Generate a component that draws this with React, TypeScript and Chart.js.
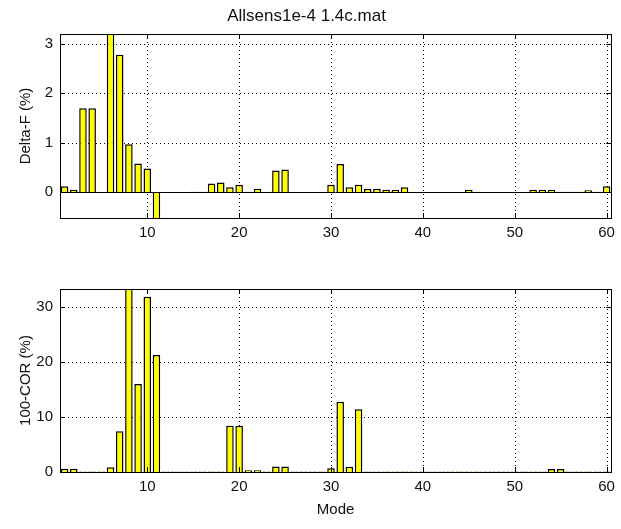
import React, { useEffect, useRef } from "react";
import { Chart, registerables } from "chart.js";

Chart.register(...registerables);

const modes: string[] = Array.from({ length: 60 }, (_, i) => String(i + 1));

const deltaF: number[] = [
  0.12, 0.05, 1.7, 1.7, 0, 3.3, 2.78, 0.97, 0.58, 0.48,
  -0.6, 0, 0, 0, 0.01, 0.01, 0.18, 0.2, 0.1, 0.15,
  0.01, 0.07, 0, 0.44, 0.46, 0, 0, 0, 0, 0.15,
  0.57, 0.1, 0.15, 0.07, 0.07, 0.05, 0.05, 0.1, 0, 0,
  0, 0, 0, 0, 0.05, 0.01, 0, 0, 0, 0,
  0, 0.05, 0.05, 0.05, 0.01, 0.01, 0.01, 0.04, 0.01, 0.12,
];

const cor: number[] = [
  0.6, 0.6, 0.1, 0.1, 0.1, 0.85, 7.4, 35, 16, 31.9,
  21.3, 0.1, 0.1, 0.1, 0.1, 0.1, 0.1, 0.1, 8.4, 8.4,
  0.3, 0.3, 0.1, 1, 1, 0.1, 0.1, 0.1, 0.1, 0.7,
  12.8, 0.95, 11.4, 0.1, 0.1, 0.1, 0.1, 0.1, 0.1, 0.1,
  0.1, 0.1, 0.1, 0.1, 0.1, 0.1, 0.1, 0.1, 0.1, 0.1,
  0.1, 0.1, 0.1, 0.55, 0.55, 0.1, 0.1, 0.1, 0.1, 0.1,
];

const xTickValues: number[] = [10, 20, 30, 40, 50, 60];
const topYTicks: number[] = [0, 1, 2, 3];
const bottomYTicks: number[] = [0, 10, 20, 30];

const FONT = "'Liberation Sans', Arial, sans-serif";
const TEXT = "#111";

const matlabPlugin = {
  id: "matlabFrame",
  beforeDraw(chart: any) {
    const { ctx, width, height } = chart;
    ctx.save();
    ctx.fillStyle = "#ffffff";
    ctx.fillRect(0, 0, width, height);
    ctx.restore();
  },
  beforeDatasetsDraw(chart: any) {
    const { ctx, chartArea: a, scales } = chart;
    const x = scales.x;
    const y = scales.y;
    ctx.save();
    ctx.strokeStyle = "#000";
    ctx.lineWidth = 1;
    ctx.setLineDash([1, 3]);
    xTickValues.forEach((v) => {
      const px = Math.round(x.getPixelForValue(v - 1)) + 0.5;
      ctx.beginPath();
      ctx.moveTo(px, a.top);
      ctx.lineTo(px, a.bottom);
      ctx.stroke();
    });
    (chart.options.plugins.matlabFrame.yTicks as number[]).forEach((v) => {
      const py = Math.round(y.getPixelForValue(v)) + 0.5;
      ctx.beginPath();
      ctx.moveTo(a.left, py);
      ctx.lineTo(a.right, py);
      ctx.stroke();
    });
    ctx.restore();
  },
  afterDatasetsDraw(chart: any) {
    const { ctx, chartArea: a, scales } = chart;
    const x = scales.x;
    const y = scales.y;
    ctx.save();
    ctx.strokeStyle = "#000";
    ctx.lineWidth = 1;
    ctx.setLineDash([]);
    const zy = Math.round(y.getPixelForValue(0)) + 0.5;
    if (zy > a.top && zy < a.bottom) {
      ctx.beginPath();
      ctx.moveTo(a.left, zy);
      ctx.lineTo(a.right, zy);
      ctx.stroke();
    }
    ctx.strokeRect(Math.round(a.left) + 0.5, Math.round(a.top) + 0.5, Math.round(a.right - a.left), Math.round(a.bottom - a.top));
    const tl = 5;
    xTickValues.forEach((v) => {
      const px = Math.round(x.getPixelForValue(v - 1)) + 0.5;
      ctx.beginPath();
      ctx.moveTo(px, a.bottom);
      ctx.lineTo(px, a.bottom - tl);
      ctx.moveTo(px, a.top);
      ctx.lineTo(px, a.top + tl);
      ctx.stroke();
    });
    (chart.options.plugins.matlabFrame.yTicks as number[]).forEach((v) => {
      const py = Math.round(y.getPixelForValue(v)) + 0.5;
      ctx.beginPath();
      ctx.moveTo(a.left, py);
      ctx.lineTo(a.left + tl, py);
      ctx.moveTo(a.right, py);
      ctx.lineTo(a.right - tl, py);
      ctx.stroke();
    });
    ctx.restore();
  },
};

function makeConfig(opts: {
  data: number[];
  yMin: number;
  yMax: number;
  yTicks: number[];
  yTitle: string;
  title?: string;
  xTitle?: string;
  padTop: number;
  xHeight: number;
}): any {
  return {
    type: "bar",
    data: {
      labels: modes,
      datasets: [
        {
          data: opts.data,
          backgroundColor: "#ffff00",
          borderColor: "#000000",
          borderWidth: 1.5,
          barPercentage: 0.82,
          categoryPercentage: 1,
        },
      ],
    },
    plugins: [matlabPlugin],
    options: {
      animation: false,
      responsive: false,
      devicePixelRatio: 1,
      layout: { padding: { left: 0, right: 8, top: opts.padTop, bottom: 0 } },
      plugins: {
        legend: { display: false },
        tooltip: { enabled: false },
        matlabFrame: { yTicks: opts.yTicks },
        title: {
          display: !!opts.title,
          text: opts.title || "",
          color: TEXT,
          font: { family: FONT, size: 17, weight: "normal" },
          padding: { top: 5.8, bottom: 7.8 },
        },
      },
      scales: {
        x: {
          type: "category",
          offset: true,
          grid: { display: false, drawTicks: false, offset: false },
          border: { display: false },
          ticks: {
            autoSkip: false,
            maxRotation: 0,
            minRotation: 0,
            padding: 6,
            color: TEXT,
            font: { family: FONT, size: 15 },
            callback: (_v: any, i: number) => ((i + 1) % 10 === 0 ? String(i + 1) : ""),
          },
          title: {
            display: !!opts.xTitle,
            text: opts.xTitle || "",
            color: TEXT,
            font: { family: FONT, size: 15 },
            padding: { top: 0, bottom: 10 },
          },
          afterFit: (s: any) => {
            s.height = opts.xHeight;
          },
        },
        y: {
          type: "linear",
          min: opts.yMin,
          max: opts.yMax,
          grid: { display: false, drawTicks: false },
          border: { display: false },
          afterBuildTicks: (s: any) => {
            s.ticks = opts.yTicks.map((v) => ({ value: v }));
          },
          ticks: {
            padding: 7,
            color: TEXT,
            font: { family: FONT, size: 15 },
            callback: (v: any) => String(v),
          },
          title: {
            display: true,
            text: opts.yTitle,
            color: TEXT,
            font: { family: FONT, size: 15 },
            padding: { top: 17, bottom: 0 },
          },
          afterFit: (s: any) => {
            s.width = 60;
          },
        },
      },
    },
  };
}

function BarPanel(props: { config: any; width: number; height: number; top: number }) {
  const ref = useRef<HTMLCanvasElement | null>(null);
  useEffect(() => {
    if (!ref.current) return;
    const chart = new Chart(ref.current, props.config);
    return () => chart.destroy();
  }, []);
  return (
    <canvas
      ref={ref}
      width={props.width}
      height={props.height}
      style={{ position: "absolute", left: 0, top: props.top, width: props.width, height: props.height }}
    />
  );
}

export default function App() {
  const topCfg = makeConfig({
    data: deltaF,
    yMin: -0.52,
    yMax: 3.2,
    yTicks: topYTicks,
    yTitle: "Delta-F (%)",
    title: "Allsens1e-4 1.4c.mat",
    padTop: 0,
    xHeight: 32,
  });
  const bottomCfg = makeConfig({
    data: cor,
    yMin: 0,
    yMax: 33.3,
    yTicks: bottomYTicks,
    yTitle: "100-COR (%)",
    xTitle: "Mode",
    padTop: 29,
    xHeight: 57,
  });
  return (
    <div style={{ position: "fixed", left: 0, top: 0, width: 621, height: 529, background: "#fff" }}>
      <BarPanel config={topCfg} width={621} height={250} top={0} />
      <BarPanel config={bottomCfg} width={621} height={269} top={260} />
    </div>
  );
}
